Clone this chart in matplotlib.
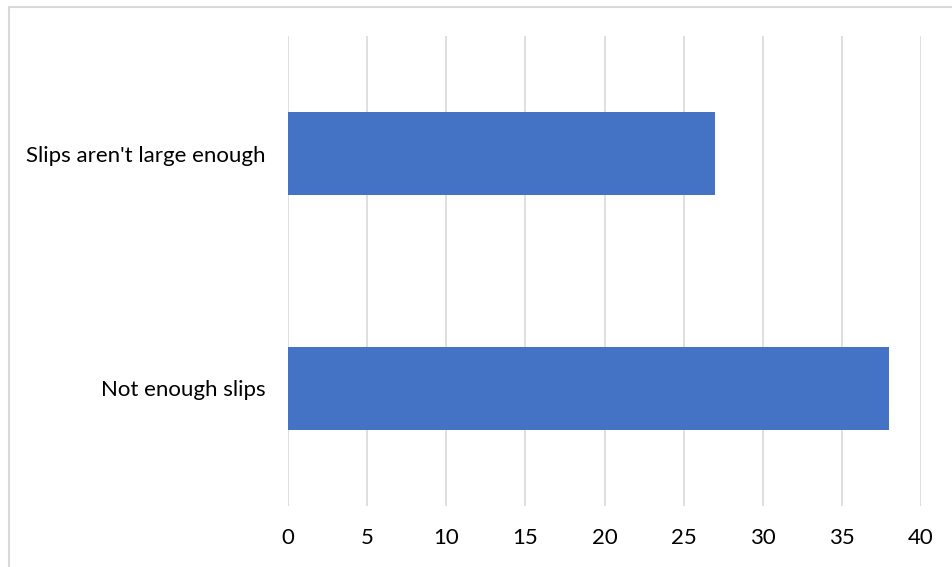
import matplotlib.pyplot as plt
import matplotlib.patches as patches

categories = ["Not enough slips", "Slips aren't large enough"]
values = [38, 27]
xticks = [0, 5, 10, 15, 20, 25, 30, 35, 40]

plt.rcParams['font.family'] = ['Lato', 'DejaVu Sans']

W, H = 952, 567
fig = plt.figure(figsize=(W / 100, H / 100), dpi=100)
ax = fig.add_axes([288 / W, 1 - 506 / H, (921 - 288) / W, (506 - 36) / H])

ax.barh(range(len(categories)), values, height=0.35, color='#4472C4', zorder=3)
ax.set_yticks(range(len(categories)))
ax.set_yticklabels(categories)
ax.set_ylim(-0.5, len(categories) - 0.5)
ax.set_xlim(0, 40)
ax.set_xticks(xticks)

ax.grid(axis='x', color='#d9d9d9', linewidth=1.2, zorder=0)
for s in ax.spines.values():
    s.set_visible(False)
ax.tick_params(axis='both', length=0, labelsize=16, colors='black')
ax.tick_params(axis='y', pad=16)
ax.tick_params(axis='x', pad=16)

# outer chart border
fig.patches.append(patches.Rectangle((8.5 / W, -0.1), 1.2, (H - 6.5) / H + 0.1,
                                     transform=fig.transFigure, fill=False,
                                     edgecolor='#d9d9d9', linewidth=1.5))

fig.savefig('out.png', dpi=100)
